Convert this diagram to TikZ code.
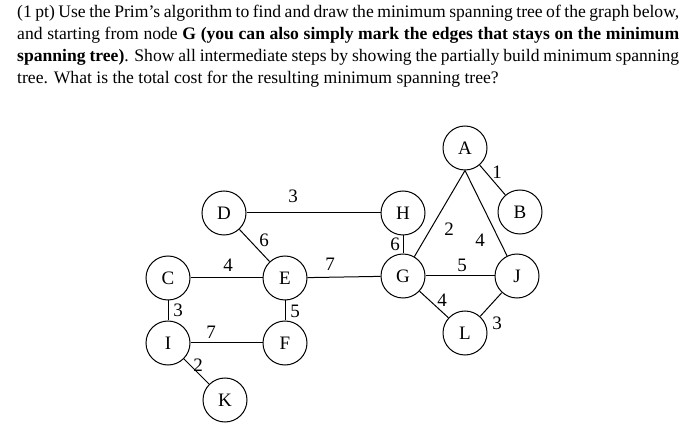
\documentclass[tikz,border=0pt]{standalone}
\usepackage{fontspec}
\setmainfont{Liberation Serif}
\begin{document}
\begin{tikzpicture}[x=1pt,y=-1pt,
  vtx/.style={draw,circle,minimum size=44pt,inner sep=0pt,font=\fontsize{19}{19}\selectfont,line width=1pt},
  edge/.style={line width=1pt},
  wt/.style={font=\fontsize{19}{19}\selectfont,inner sep=0pt}]
\useasboundingbox (0,0) rectangle (699,438);
\node[anchor=north west,text width=662pt,align=justify,inner sep=0pt,font=\fontsize{17.6}{22}\selectfont] (q) at (17,5)
{(1 pt) Use the Prim's algorithm to find and draw the minimum spanning tree of the graph below, and starting from node \textbf{G (you can also simply mark the edges that stays on the minimum spanning tree)}. Show all intermediate steps by showing the partially build minimum spanning tree. What is the total cost for the resulting minimum spanning tree?};
\node[vtx] (A) at (465,148) {A};
\node[vtx] (B) at (520,212) {B};
\node[vtx] (D) at (224,213) {D};
\node[vtx] (H) at (403,213) {H};
\node[vtx] (C) at (168,278) {C};
\node[vtx] (E) at (285,278) {E};
\node[vtx] (G) at (403,276) {G};
\node[vtx] (J) at (517,276) {J};
\node[vtx] (I) at (168,343) {I};
\node[vtx] (F) at (285,343) {F};
\node[vtx] (L) at (465,333) {L};
\node[vtx] (K) at (225,400) {K};
\draw[edge] (D) -- (H);
\draw[edge] (D) -- (E);
\draw[edge] (C) -- (E);
\draw[edge] (E) -- (G);
\draw[edge] (H) -- (G);
\draw[edge] (A.south) -- (G);
\draw[edge] (A.south) -- (J);
\draw[edge] (A) -- (B);
\draw[edge] (G) -- (J);
\draw[edge] (G) -- (L);
\draw[edge] (L) -- (J);
\draw[edge] (C) -- (I);
\draw[edge] (I) -- (F);
\draw[edge] (E) -- (F);
\draw[edge] (I) -- (K);
\node[wt] (w1) at (293,196) {3};
\node[wt] (w2) at (264,240) {6};
\node[wt] (w3) at (228,265) {4};
\node[wt] (w4) at (330,264) {7};
\node[wt] (w5) at (395,244) {6};
\node[wt] (w6) at (449,229) {2};
\node[wt] (w7) at (480,240) {4};
\node[wt] (w8) at (497,172) {1};
\node[wt] (w9) at (462,265) {5};
\node[wt] (w10) at (442,300) {4};
\node[wt] (w11) at (497,323) {3};
\node[wt] (w12) at (178,310) {3};
\node[wt] (w13) at (211,332) {7};
\node[wt] (w14) at (295,311) {5};
\node[wt] (w15) at (198,365) {2};
\end{tikzpicture}
\end{document}
